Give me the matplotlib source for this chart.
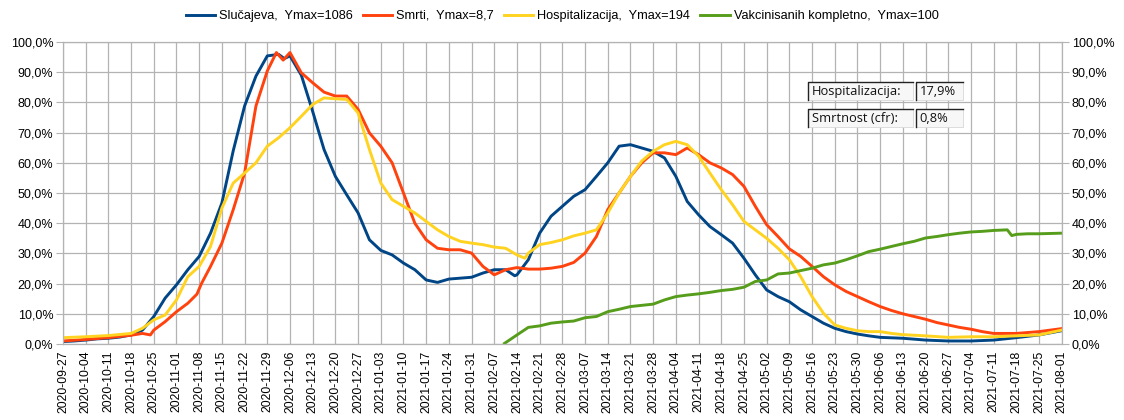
import numpy as np
import pandas as pd
import matplotlib
matplotlib.use("Agg")
import matplotlib.pyplot as plt
from matplotlib.patches import Rectangle
from matplotlib.lines import Line2D
from matplotlib.ticker import FuncFormatter, MultipleLocator

plt.rcParams['font.family'] = ['Liberation Sans', 'DejaVu Sans']

START = pd.Timestamp('2020-09-27')
tick_labels = pd.date_range('2020-09-27', '2021-08-01', freq='7D')

# week offsets from 2020-09-27 and values (%)
blue_wk = [0, 0.5, 1, 1.5, 2, 2.5, 3, 3.5, 4, 4.5, 5, 5.5, 6, 6.5, 7, 7.5, 8, 8.5, 9, 9.5, 9.75, 10,
           10.5, 11, 11.5, 12, 12.5, 13, 13.5, 14, 14.5, 15, 15.5, 16, 16.5, 17, 17.5, 18, 18.5, 19,
           19.5, 19.9, 20, 20.5, 21, 21.5, 22, 22.5, 23, 23.5, 24, 24.5, 25, 25.5, 26, 26.5, 27, 27.5,
           28, 28.5, 29, 29.5, 30, 30.5, 31, 31.5, 32, 32.5, 33, 33.5, 34, 34.5, 35, 35.5, 36, 37, 38,
           39, 40, 41, 42, 43, 44]
blue_val = [0.8, 1.0, 1.3, 1.7, 1.9, 2.3, 3.0, 4.6, 9.1, 15.2, 19.6, 24.6, 29.0, 36.7, 46.7, 64.0, 78.8,
            88.7, 95.4, 95.9, 94.5, 95.4, 89.0, 77.0, 64.4, 55.5, 49.4, 43.4, 34.5, 31.0, 29.5, 26.8,
            24.6, 21.2, 20.4, 21.5, 21.8, 22.1, 23.5, 24.6, 24.6, 22.6, 22.9, 27.9, 36.7, 42.3, 45.6,
            48.9, 51.1, 55.5, 60.0, 65.5, 66.0, 64.9, 63.8, 61.6, 55.5, 47.2, 42.8, 38.9, 36.2, 33.4,
            28.4, 22.9, 17.9, 15.7, 14.0, 11.3, 9.1, 6.9, 5.2, 4.1, 3.3, 2.7, 2.2, 1.9, 1.3, 1.0, 1.0,
            1.3, 2.1, 3.0, 4.4]

red_wk = [0, 1, 2, 3, 3.5, 3.85, 4, 4.5, 5, 5.5, 5.9, 6.1, 6.5, 7, 7.5, 8, 8.5, 9, 9.4, 9.7, 10, 10.5,
          11, 11.5, 12, 12.5, 13, 13.5, 14, 14.5, 15, 15.5, 16, 16.5, 17, 17.5, 18, 18.5, 19, 19.5, 20,
          20.5, 21, 21.5, 22, 22.5, 23, 23.5, 24, 24.5, 25, 25.5, 26, 26.5, 27, 27.5, 28, 28.5, 29,
          29.5, 30, 30.5, 31, 31.5, 32, 32.5, 33, 33.5, 34, 34.5, 35, 35.5, 36, 36.5, 37, 37.5, 38,
          38.5, 39, 39.5, 40, 40.5, 41, 42, 43, 44]
red_val = [1.0, 1.5, 2.1, 2.9, 3.5, 3.0, 4.6, 7.4, 10.7, 13.5, 16.5, 20.0, 25.7, 33.4, 44.5, 56.6, 78.8,
           90.4, 96.5, 94.0, 96.5, 89.8, 86.5, 83.4, 82.1, 82.1, 77.7, 69.9, 65.5, 60.0, 50.0, 40.0,
           34.5, 31.7, 31.2, 31.2, 30.1, 25.7, 22.9, 24.6, 25.3, 24.8, 24.8, 25.1, 25.7, 27.0, 30.1,
           35.6, 44.5, 50.0, 55.5, 60.0, 63.3, 63.3, 62.7, 64.9, 62.7, 60.0, 58.3, 56.1, 52.2, 45.6,
           39.5, 35.6, 31.5, 29.0, 25.7, 22.3, 19.6, 17.4, 15.7, 14.0, 12.4, 11.1, 10.0, 9.1, 8.2, 7.1,
           6.3, 5.5, 4.9, 4.1, 3.5, 3.5, 4.1, 5.1]

yellow_wk = [0, 1, 2, 3, 3.5, 4, 4.5, 5, 5.5, 6, 6.5, 7, 7.5, 8, 8.5, 9, 9.5, 10, 10.5, 11, 11.5, 12,
             12.5, 13, 13.5, 14, 14.5, 15, 15.5, 16, 16.5, 17, 17.5, 18, 18.5, 19, 19.5, 20, 20.35,
             20.5, 21, 21.5, 22, 22.5, 23, 23.5, 24, 24.5, 25, 25.5, 26, 26.5, 27, 27.5, 28, 28.5, 29,
             29.5, 30, 30.5, 31, 31.5, 32, 32.5, 33, 33.5, 34, 34.5, 35, 35.5, 36, 36.5, 37, 38, 39,
             40, 41, 42, 43, 44]
yellow_val = [2.1, 2.4, 2.8, 3.5, 5.2, 8.0, 9.6, 14.6, 22.3, 25.7, 32.3, 45.0, 53.3, 56.6, 60.0, 65.5,
              68.3, 71.6, 75.4, 79.3, 81.5, 81.2, 81.0, 76.5, 64.4, 53.3, 47.8, 45.6, 43.4, 40.6, 37.8,
              35.6, 34.0, 33.4, 32.9, 32.1, 31.7, 29.5, 28.4, 30.1, 32.9, 33.6, 34.5, 35.8, 36.7, 37.8,
              43.4, 50.0, 55.5, 60.6, 63.8, 66.0, 67.1, 66.0, 62.2, 56.6, 51.1, 46.1, 40.6, 37.8, 35.0,
              31.7, 27.9, 22.3, 15.7, 10.2, 6.3, 5.2, 4.4, 4.1, 4.1, 3.5, 3.1, 2.7, 2.2, 2.4, 2.4, 2.7,
              3.0, 4.6]

green_wk = [19.45, 20, 20.5, 21, 21.5, 22, 22.5, 23, 23.5, 24, 24.5, 25, 25.5, 26, 26.5, 27, 27.5, 28,
            28.5, 29, 29.5, 30, 30.5, 31, 31.5, 32, 32.5, 33, 33.5, 34, 34.5, 35, 35.5, 36, 36.5, 37,
            37.5, 38, 38.5, 39, 39.5, 40, 40.5, 41, 41.6, 41.8, 42, 42.5, 43, 43.5, 44]
green_val = [0.2, 3.0, 5.5, 6.0, 6.9, 7.3, 7.6, 8.7, 9.1, 10.7, 11.5, 12.4, 12.8, 13.2, 14.6, 15.7,
             16.2, 16.6, 17.1, 17.7, 18.1, 18.8, 20.7, 21.2, 23.2, 23.5, 24.3, 25.1, 26.2, 26.8, 27.9,
             29.2, 30.6, 31.4, 32.3, 33.2, 34.0, 35.1, 35.6, 36.2, 36.7, 37.1, 37.3, 37.6, 37.8, 35.9,
             36.3, 36.5, 36.5, 36.6, 36.7]

series_labels = ["Slučajeva,  Ymax=1086", "Smrti,  Ymax=8,7",
                 "Hospitalizacija,  Ymax=194", "Vakcinisanih kompletno,  Ymax=100"]
series_colors = ["#004586", "#ff420e", "#ffd320", "#579d1c"]

table_labels = ["Hospitalizacija:", "Smrtnost (cfr):"]
table_values = ["17,9%", "0,8%"]

W, H = 1124, 420
fig = plt.figure(figsize=(W / 100, H / 100), dpi=100)
L, R, T, B = 63, 1062, 42, 344
ax = fig.add_axes([L / W, 1 - B / H, (R - L) / W, (B - T) / H])


def to_dates(wk):
    return START + pd.to_timedelta(np.array(wk) * 7, unit='D')


data = [(blue_wk, blue_val), (red_wk, red_val), (yellow_wk, yellow_val), (green_wk, green_val)]
handles = []
for (wk, val), lab, col in zip(data, series_labels, series_colors):
    h, = ax.plot(to_dates(wk), val, color=col, lw=2.1, label=lab, solid_joinstyle='round')
    handles.append(h)

ax.set_ylim(0, 100)
ax.set_xlim(tick_labels[0], tick_labels[-1] + pd.Timedelta(hours=2))
ax.set_xticks(tick_labels)
ax.set_xticklabels([d.strftime('%Y-%m-%d') for d in tick_labels], rotation=90, fontsize=8.8)
ax.yaxis.set_major_locator(MultipleLocator(10))
fmt = FuncFormatter(lambda v, p: f"{v:.1f}%".replace('.', ','))
ax.yaxis.set_major_formatter(fmt)
ax.tick_params(axis='y', labelsize=9, length=5, color='#b3b3b3', pad=2)
ax.tick_params(axis='x', length=0, pad=5)
ax.grid(True, color='#b3b3b3', lw=0.9)
ax.set_axisbelow(True)
for s in ax.spines.values():
    s.set_color('#b3b3b3')
    s.set_linewidth(0.9)

ax2 = ax.twinx()
ax2.set_ylim(0, 100)
ax2.yaxis.set_major_locator(MultipleLocator(10))
ax2.yaxis.set_major_formatter(fmt)
ax2.tick_params(axis='y', labelsize=9, length=5, color='#b3b3b3', pad=2)
for s in ax2.spines.values():
    s.set_visible(False)

fig.legend(handles=handles, loc='center', bbox_to_anchor=(0.5, 1 - 16 / H), ncol=4,
           frameon=False, fontsize=9.2, handlelength=2.3, handletextpad=0.3,
           columnspacing=0.8, borderaxespad=0)

# info table
def px(x, y):
    return x / W, 1 - y / H

rows_y = [(82, 100), (109, 127)]
cols_x = [(808, 913), (916, 963)]
for (y0, y1), lab, val in zip(rows_y, table_labels, table_values):
    for (x0, x1), txt in zip(cols_x, [lab, val]):
        fx0, fy1 = px(x0, y1)
        fx1, fy0 = px(x1, y0)
        fig.patches.append(Rectangle((fx0, fy1), fx1 - fx0, fy0 - fy1, transform=fig.transFigure,
                                     facecolor='#f7f7f7', edgecolor='#d8d8d8', lw=0.6))
        fig.lines.append(Line2D([fx0, fx0, fx1], [fy1, fy0, fy0], transform=fig.transFigure,
                                color='#222222', lw=1.0))
        tx, ty = px(x0 + 3.5, (y0 + y1) / 2 + 0.5)
        fig.text(tx, ty, txt, fontsize=9.3, family=['Open Sans', 'DejaVu Sans'],
                 color='#111111', va='center', ha='left')

fig.savefig('out.png', dpi=100)
